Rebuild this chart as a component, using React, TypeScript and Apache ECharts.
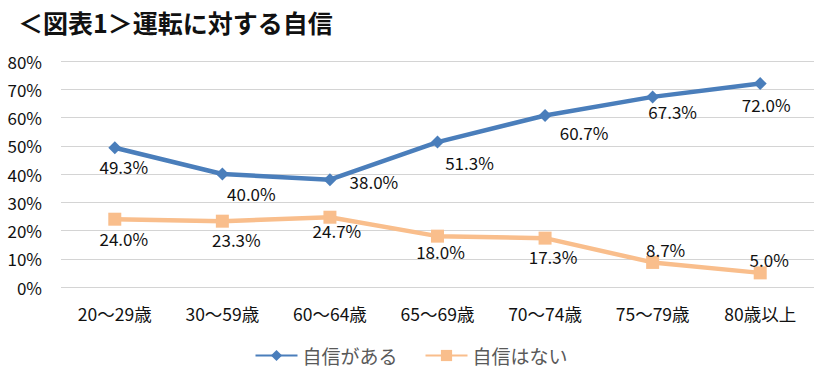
import React, { useEffect, useRef } from "react";
import * as echarts from "echarts";

const categories = ["20～29歳", "30～59歳", "60～64歳", "65～69歳", "70～74歳", "75～79歳", "80歳以上"];
const confident = [49.3, 40.0, 38.0, 51.3, 60.7, 67.3, 72.0];
const notConfident = [24.0, 23.3, 24.7, 18.0, 17.3, 8.7, 5.0];
const confidentLabelOffsets = [[9, 19], [29, 19], [44, 2], [32, 20], [39, 17], [20, 15], [6, 21]];
const notConfidentLabelOffsets = [[9, 19], [14, 18], [7, 13], [3, 15], [8, 18], [13, -13], [9, -13]];

const FONT = "'Noto Sans CJK JP', 'Noto Sans', sans-serif";

export default function App() {
  const ref = useRef<HTMLDivElement>(null);
  useEffect(() => {
    if (!ref.current) return;
    const chart = echarts.init(ref.current, undefined, { renderer: "svg" });
    const mk = (vals: number[], offs: number[][]) =>
      vals.map((v, i) => ({ value: v, label: { offset: offs[i] } }));
    chart.setOption({
      animation: false,
      backgroundColor: "#ffffff",
      textStyle: { fontFamily: FONT },
      title: {
        text: "＜図表1＞運転に対する自信",
        left: 13,
        top: 4,
        textStyle: { fontSize: 25, fontWeight: "bold", color: "#111", fontFamily: FONT },
      },
      grid: { left: 61, right: 8, top: 61, bottom: 86 },
      legend: {
        bottom: 3,
        left: "center",
        itemWidth: 42,
        itemHeight: 14,
        itemGap: 27,
        textStyle: { fontSize: 19, color: "#595959", fontFamily: FONT },
        data: ["自信がある", "自信はない"],
      },
      xAxis: {
        type: "category",
        data: categories,
        boundaryGap: true,
        axisLine: { show: false },
        axisTick: { show: false },
        axisLabel: { fontSize: 17.5, color: "#111", margin: 18, fontFamily: FONT },
      },
      yAxis: {
        type: "value",
        min: 0,
        max: 80,
        interval: 10,
        axisLine: { show: false },
        axisTick: { show: false },
        splitLine: { lineStyle: { color: "#d4d4d4", width: 1 } },
        axisLabel: { formatter: "{value}%", fontSize: 17, color: "#111", margin: 19, fontFamily: FONT },
      },
      series: [
        {
          name: "自信がある",
          type: "line",
          data: mk(confident, confidentLabelOffsets),
          symbol: "diamond",
          symbolSize: 13,
          itemStyle: { color: "#4a7ebb" },
          lineStyle: { color: "#4a7ebb", width: 4.5 },
          label: {
            show: true,
            position: "inside",
            formatter: (p: any) => p.value.toFixed(1) + "%",
            fontSize: 17,
            color: "#111",
            fontFamily: FONT,
          },
        },
        {
          name: "自信はない",
          type: "line",
          data: mk(notConfident, notConfidentLabelOffsets),
          symbol: "rect",
          symbolSize: 13,
          itemStyle: { color: "#f9be8c" },
          lineStyle: { color: "#f9be8c", width: 4.5 },
          label: {
            show: true,
            position: "inside",
            formatter: (p: any) => p.value.toFixed(1) + "%",
            fontSize: 17,
            color: "#111",
            fontFamily: FONT,
          },
        },
      ],
    });
    return () => chart.dispose();
  }, []);
  return (
    <div
      ref={ref}
      style={{ position: "fixed", left: 0, top: 0, width: 822, height: 373 }}
    />
  );
}
